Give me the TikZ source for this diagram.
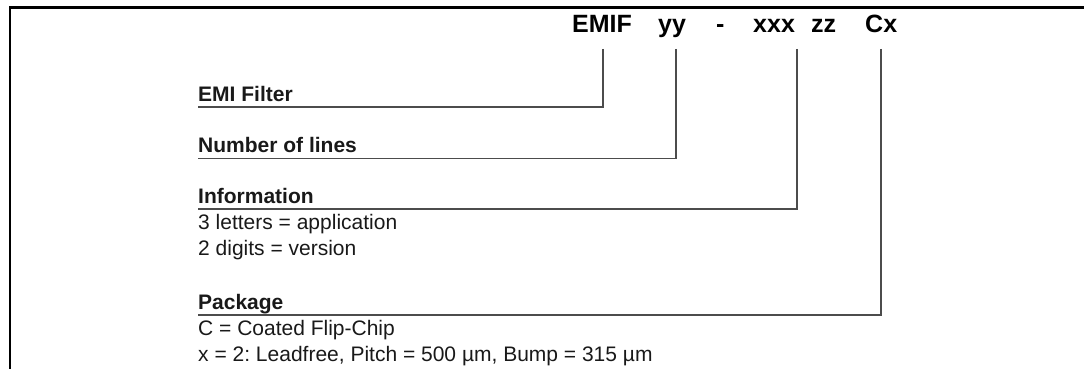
\documentclass[tikz,border=0pt]{standalone}
\usepackage{fontspec}
\setmainfont{Liberation Sans}
\frenchspacing
\begin{document}
\begin{tikzpicture}[x=1pt,y=-1pt,
  frame/.style={line width=2.2pt,black},
  conn/.style={line width=1.3pt,black!70},
  title/.style={anchor=base west,inner sep=0pt,font=\fontsize{25}{30}\selectfont\bfseries},
  head/.style={anchor=base west,inner sep=0pt,font=\fontsize{21}{25}\selectfont\bfseries,text=black!90},
  body/.style={anchor=base west,inner sep=0pt,font=\fontsize{21}{25}\selectfont,text=black!90}]
\useasboundingbox (0,0) rectangle (1084,369);
% frame
\coordinate (fl) at (10,369);
\coordinate (fc) at (10,7.6);
\coordinate (fr) at (1084,7.6);
\draw[frame] (fl) -- (fc) -- (fr);
% title
\node[title] (emif) at (572,33) {EMIF};
\node[title] (yy) at (658,33) {yy};
\node[title] (dash) at (716,33) {-};
\node[title] (xxx) at (753,33) {xxx};
\node[title] (zz) at (811,33) {zz};
\node[title] (cx) at (865,33) {Cx};
% labels
\node[head] (l1) at (198,101) {EMI Filter};
\node[head] (l2) at (198,152) {Number of lines};
\node[head] (l3) at (198,203) {Information};
\node[body] (l3a) at (198,229) {3 letters = application};
\node[body] (l3b) at (198,255) {2 digits = version};
\node[head] (l4) at (198,309) {Package};
\node[body] (l4a) at (198,335) {C = Coated Flip-Chip};
\node[body] (l4b) at (198,361) {x = 2: Leadfree, Pitch = 500 µm, Bump = 315 µm};
% connector start points below title pieces
\coordinate (t1) at (603,49);
\coordinate (t2) at (676,49);
\coordinate (t3) at (797,49);
\coordinate (t4) at (881,49);
% underline left ends
\coordinate (u1) at (198,107);
\coordinate (u2) at (198,158.5);
\coordinate (u3) at (198,209);
\coordinate (u4) at (198,315);
\draw[conn] (t1) |- (u1);
\draw[conn] (t2) |- (u2);
\draw[conn] (t3) |- (u3);
\draw[conn] (t4) |- (u4);
\end{tikzpicture}
\end{document}
